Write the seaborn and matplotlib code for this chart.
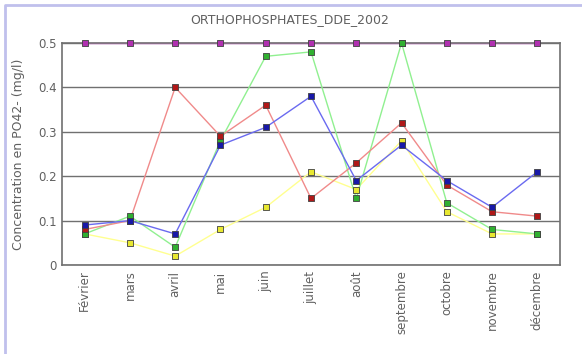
import numpy as np
import pandas as pd
import matplotlib.pyplot as plt
import seaborn as sns
from matplotlib.lines import Line2D

mois = ['Février', 'mars', 'avril', 'mai', 'juin', 'juillet', 'août',
        'septembre', 'octobre', 'novembre', 'décembre']

violet = [0.5, 0.5, 0.5, 0.5, 0.5, 0.5, 0.5, 0.5, 0.5, 0.5, 0.5]
vert = [0.07, 0.11, 0.04, 0.28, 0.47, 0.48, 0.15, 0.50, 0.14, 0.08, 0.07]
rouge = [0.08, 0.10, 0.40, 0.29, 0.36, 0.15, 0.23, 0.32, 0.18, 0.12, 0.11]
bleu = [0.09, 0.10, 0.07, 0.27, 0.31, 0.38, 0.19, 0.27, 0.19, 0.13, 0.21]
jaune = [0.07, 0.05, 0.02, 0.08, 0.13, 0.21, 0.17, 0.28, 0.12, 0.07, 0.07]

series = {'violet': violet, 'jaune': jaune, 'vert': vert, 'rouge': rouge, 'bleu': bleu}
line_col = {'violet': '#f070f0', 'jaune': '#ffff90', 'vert': '#90f090',
            'rouge': '#f08a8a', 'bleu': '#6a6af0'}
mark_col = {'violet': '#b030b0', 'jaune': '#e8e830', 'vert': '#30b030',
            'rouge': '#b01818', 'bleu': '#1818a8'}

rows = []
for name, vals in series.items():
    for i, v in enumerate(vals):
        rows.append({'mois': mois[i], 'x': i, 'val': v, 'serie': name})
df = pd.DataFrame(rows)

sns.set_style('white')
plt.rcParams['font.family'] = ['DejaVu Sans']

fig = plt.figure(figsize=(5.82, 3.54), dpi=100)
# cadre du panneau (bord gauche et haut)
fig.lines.append(Line2D([5 / 582, 5 / 582, 1], [0, 1 - 5 / 354, 1 - 5 / 354],
                        transform=fig.transFigure, color='#c0c0ec', lw=2))
ax = fig.add_axes([62 / 582, 1 - 265 / 354, 498 / 582, 222 / 354])

sns.lineplot(data=df, x='x', y='val', hue='serie', palette=line_col,
             ax=ax, legend=False, lw=1, clip_on=False)
for name in series:
    sub = df[df['serie'] == name]
    sns.scatterplot(data=sub, x='x', y='val', color=mark_col[name], marker='s',
                    s=22, edgecolor='#404040', linewidth=0.6, ax=ax,
                    legend=False, clip_on=False, zorder=5)

ax.set_xlim(-0.5, 10.5)
ax.set_ylim(0, 0.5)
ax.set_yticks([0, 0.1, 0.2, 0.3, 0.4, 0.5])
ax.set_yticklabels(['0', '0.1', '0.2', '0.3', '0.4', '0.5'])
ax.set_xticks(range(len(mois)))
ax.set_xticklabels(mois, rotation=90)
ax.yaxis.grid(True, color='#707070', lw=1)
ax.set_axisbelow(True)
for sp in ax.spines.values():
    sp.set_color('#707070')
    sp.set_linewidth(1.2)
ax.tick_params(colors='#606060', labelsize=8.5, length=0, pad=4)
ax.set_xlabel('')
ax.set_ylabel('Concentration en PO42- (mg/l)', color='#606060', fontsize=9, labelpad=9)
fig.text(290 / 582, 1 - 20 / 354, 'ORTHOPHOSPHATES_DDE_2002', color='#606060',
         fontsize=9, ha='center', va='center')

fig.savefig('out.png', dpi=100)
